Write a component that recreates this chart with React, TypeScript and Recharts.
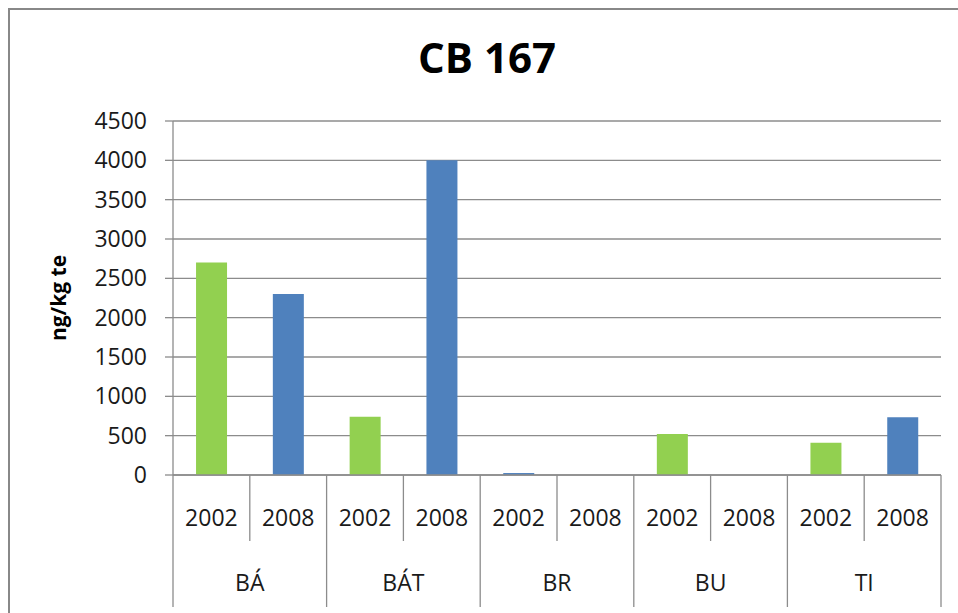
import React from 'react';
import { BarChart, Bar, XAxis, YAxis, CartesianGrid } from 'recharts';

const years = ['2002', '2008', '2002', '2008', '2002', '2008', '2002', '2008', '2002', '2008'];
const groups = ['BÁ', 'BÁT', 'BR', 'BU', 'TI'];
const greenValues = [2700, 0, 740, 0, 0, 0, 520, 0, 410, 0];
const blueValues = [0, 2300, 0, 4000, 25, 0, 0, 0, 0, 735];
const yTicks = [0, 500, 1000, 1500, 2000, 2500, 3000, 3500, 4000, 4500];

const data = years.map((y, i) => ({ year: y, green: greenValues[i], blue: blueValues[i] }));

const W = 958;
const H = 613;
const X_AXIS_H = 138;
const M = { top: 121, right: 17, bottom: 0, left: 8 };
const Y_AXIS_W = 165;
const BAND = (W - M.left - Y_AXIS_W - M.right) / years.length;
const FONT = '"Open Sans", sans-serif';
const GRID = '#8c8c8c';

const YearTick = (props: any) => {
  const { x, y, payload } = props;
  const i = payload.index;
  const left = x - BAND / 2;
  const groupStart = i % 2 === 0;
  return (
    <g>
      <line x1={left} x2={left} y1={y} y2={groupStart ? y + 132 : y + 66} stroke={GRID} strokeWidth={1.3} />
      {i === years.length - 1 && (
        <line x1={x + BAND / 2} x2={x + BAND / 2} y1={y} y2={y + 132} stroke={GRID} strokeWidth={1.3} />
      )}
      <text x={x} y={y + 42} textAnchor="middle" dominantBaseline="central" fontFamily={FONT} fontSize={23} fill="#1a1a1a">
        {payload.value}
      </text>
      {groupStart && (
        <text x={x + BAND / 2} y={y + 107} textAnchor="middle" dominantBaseline="central" fontFamily={FONT} fontSize={23} fill="#1a1a1a">
          {groups[i / 2]}
        </text>
      )}
    </g>
  );
};

const YLabel = (props: any) => {
  const { viewBox } = props;
  const cx = viewBox.x + 50;
  const cy = viewBox.y + viewBox.height / 2;
  return (
    <text x={cx} y={cy} transform={`rotate(-90 ${cx} ${cy})`} textAnchor="middle" dominantBaseline="central" fontFamily={FONT} fontWeight="bold" fontSize={21} fill="#000">
      ng/kg te
    </text>
  );
};

export default function App() {
  return (
    <div style={{ position: 'absolute', left: 0, top: 0, width: W, height: H, overflow: 'hidden', background: '#fff' }}>
      <div style={{ position: 'absolute', left: 8, top: 8, width: W, height: H, border: '2px solid #888', boxSizing: 'border-box' }} />
      <div style={{ position: 'absolute', left: 287, width: 400, top: 36, textAlign: 'center', fontFamily: FONT, fontWeight: 'bold', fontSize: 42, lineHeight: '42px', color: '#000' }}>
        CB 167
      </div>
      <div style={{ position: 'absolute', left: 0, top: 0 }}>
        <BarChart width={W} height={H} data={data} margin={M} barCategoryGap="30%">
          <CartesianGrid vertical={false} stroke={GRID} strokeWidth={1.3} />
          <XAxis dataKey="year" interval={0} tickSize={0} tickMargin={0} tickLine={false} axisLine={{ stroke: GRID, strokeWidth: 1.3 }} height={X_AXIS_H} tick={<YearTick />} />
          <YAxis width={Y_AXIS_W} domain={[0, 4500]} ticks={yTicks} interval={0} tickSize={8} tickMargin={18} tickLine={{ stroke: GRID, strokeWidth: 1.3 }} axisLine={{ stroke: GRID, strokeWidth: 1.3 }} tick={{ fontFamily: FONT, fontSize: 23, fill: '#1a1a1a' }} label={<YLabel />} />
          <Bar dataKey="green" stackId="s" fill="#92D050" isAnimationActive={false} />
          <Bar dataKey="blue" stackId="s" fill="#4F81BD" isAnimationActive={false} />
        </BarChart>
      </div>
    </div>
  );
}
